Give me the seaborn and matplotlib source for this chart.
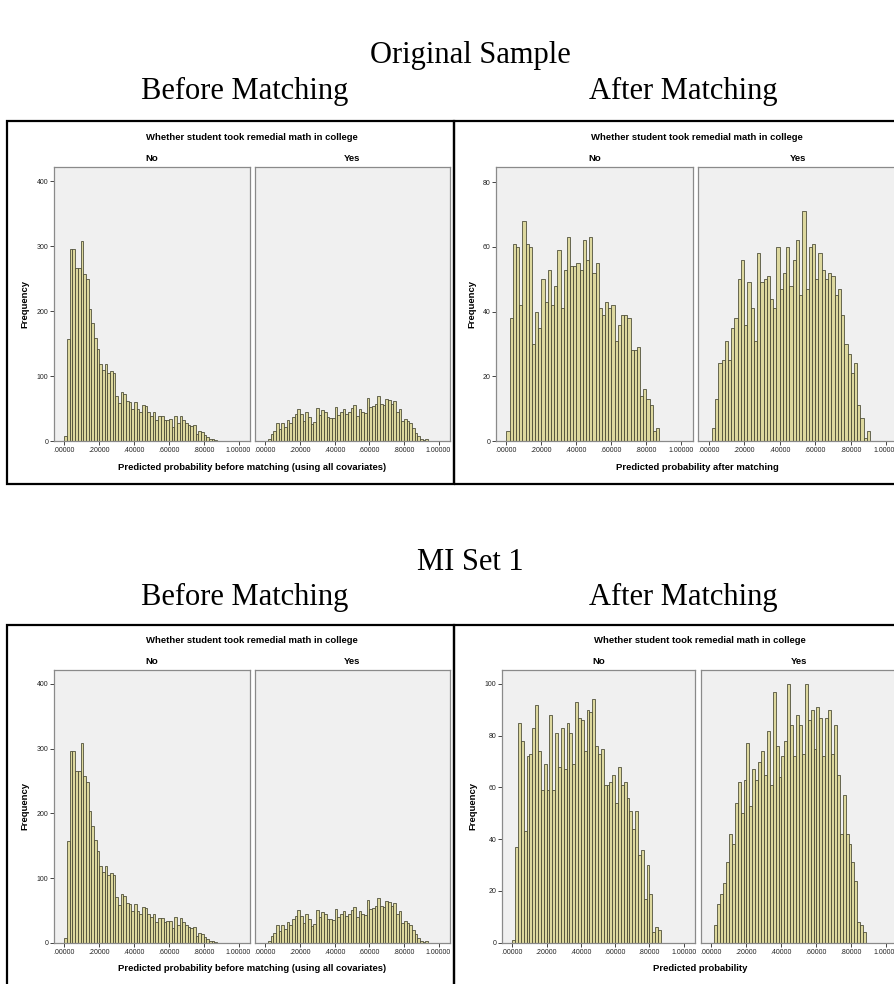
import numpy as np
import pandas as pd
import matplotlib
matplotlib.use("Agg")
import matplotlib.pyplot as plt
import seaborn as sns
from matplotlib.patches import Rectangle

sns.set_theme(style="white")
plt.rcParams["font.family"] = ["Liberation Sans", "DejaVu Sans"]
plt.rcParams["text.color"] = "black"

# ---------------------------------------------------------------- data
# Histogram counts per bin; each series starts at bin index FIRST_* and
# uses the bin width of its panel.
BIN_W_BEFORE = 0.2 / 13
BIN_W_AFTER_ORIG = 0.2 / 11
BIN_W_AFTER_MI = 1 / 60

# Before matching (propensity from all covariates) -- used for both samples
BEFORE_NO = [8, 157, 296, 296, 266, 266, 308, 257, 249, 204,
             181, 158, 141, 118, 109, 119, 105, 108, 104, 70,
             59, 76, 72, 62, 60, 49, 60, 49, 45, 55,
             54, 45, 39, 45, 32, 38, 38, 32, 33, 34,
             22, 39, 27, 38, 32, 27, 25, 23, 25, 11,
             15, 14, 9, 6, 3, 3, 1]
FIRST_BEFORE_NO = 0
BEFORE_YES = [3, 11, 15, 27, 18, 27, 21, 32, 27, 37,
              42, 50, 42, 31, 45, 37, 26, 29, 51, 40,
              47, 45, 37, 36, 35, 52, 40, 45, 49, 42,
              45, 51, 55, 39, 49, 45, 43, 66, 52, 54,
              57, 69, 57, 55, 64, 63, 57, 62, 45, 49,
              31, 34, 31, 27, 20, 13, 7, 3, 1, 3]
FIRST_BEFORE_YES = 1

# Original sample, after matching
ORIG_AFTER_NO = [3, 38, 61, 60, 42, 68, 61, 60, 30, 40,
                 35, 50, 43, 53, 42, 48, 59, 41, 53, 63,
                 54, 54, 55, 53, 62, 56, 63, 52, 55, 41,
                 39, 43, 41, 42, 31, 36, 39, 39, 38, 28,
                 28, 29, 14, 16, 13, 11, 3, 4]
FIRST_ORIG_AFTER_NO = 0
ORIG_AFTER_YES = [4, 13, 24, 25, 31, 25, 35, 38, 50, 56,
                  36, 49, 41, 31, 58, 49, 50, 51, 44, 41,
                  60, 47, 52, 60, 48, 56, 62, 45, 71, 47,
                  60, 61, 50, 58, 53, 50, 52, 51, 45, 47,
                  39, 30, 27, 21, 24, 11, 7, 1, 3]
FIRST_ORIG_AFTER_YES = 1

# MI set 1, after matching
MI_AFTER_NO = [1, 37, 85, 78, 43, 72, 73, 83, 92, 74,
               59, 69, 59, 88, 59, 81, 68, 83, 67, 85,
               81, 69, 93, 87, 86, 74, 90, 89, 94, 76,
               73, 75, 61, 61, 62, 65, 54, 68, 61, 62,
               56, 51, 44, 51, 34, 36, 17, 30, 19, 4,
               6, 5]
FIRST_MI_AFTER_NO = 0
MI_AFTER_YES = [7, 15, 19, 23, 31, 42, 38, 54, 62, 50,
                63, 77, 53, 67, 63, 70, 74, 65, 82, 61,
                97, 76, 64, 72, 78, 100, 84, 72, 88, 84,
                73, 100, 86, 90, 75, 91, 87, 72, 87, 90,
                73, 84, 65, 42, 57, 42, 38, 31, 24, 8,
                7, 4]
FIRST_MI_AFTER_YES = 1

FACETS = ["No", "Yes"]
X_TICKS = [0.0, 0.2, 0.4, 0.6, 0.8, 1.0]
X_TICK_LABELS = [".00000", ".20000", ".40000", ".60000", ".80000", "1.00000"]
FACET_TITLE = "Whether student took remedial math in college"

# ---------------------------------------------------------------- style
W, H = 895, 984
BAR_FACE = "#DDD89E"
BAR_EDGE = "#44442f"
PANEL_BG = "#F0F0F0"
FRAME = "#8a8a8a"
SANS = ["Liberation Sans", "DejaVu Sans"]
SERIF = ["Liberation Serif", "DejaVu Serif"]
HEAD_SIZE = 22

fig = plt.figure(figsize=(W / 100, H / 100), dpi=100)
fig.patch.set_facecolor("white")


def fx(x):
    return x / W


def fy(y):
    return 1 - y / H


def px_axes(x0, y0, x1, y1):
    return fig.add_axes([fx(x0), fy(y1), (x1 - x0) / W, (y1 - y0) / H])


def draw_hist(ax, counts, first_bin, width, ymax, yticks, show_y):
    n = len(counts)
    idx = first_bin + np.arange(n)
    table = pd.DataFrame({"p": (idx + 0.5) * width, "n": counts})
    edges = [float(e) for e in (first_bin + np.arange(n + 1)) * width]
    sns.histplot(data=table, x="p", weights="n", bins=edges, ax=ax,
                 color=BAR_FACE, edgecolor=BAR_EDGE, linewidth=0.55,
                 alpha=1, element="bars", fill=True)
    ax.set_facecolor(PANEL_BG)
    ax.set_xlim(-0.06, 1.066)
    ax.set_ylim(0, ymax)
    ax.set_xlabel("")
    ax.set_ylabel("")
    ax.set_xticks(X_TICKS)
    ax.set_xticklabels(X_TICK_LABELS)
    ax.set_yticks(yticks)
    ax.set_yticklabels([str(t) for t in yticks])
    for s in ax.spines.values():
        s.set_color(FRAME)
        s.set_linewidth(0.9)
    ax.tick_params(axis="both", direction="out", length=3, width=0.7,
                   color="#444444", labelsize=5, pad=1.2,
                   labelcolor="#222222")
    ax.tick_params(axis="x", bottom=True)
    if show_y:
        ax.tick_params(axis="y", left=True, labelleft=True)
    else:
        ax.tick_params(axis="y", left=False, labelleft=False)
    for lab in ax.get_xticklabels() + ax.get_yticklabels():
        lab.set_fontfamily(SANS)


def draw_block(box_x0, box_x1, box_y0, box_y1, ax_y0, ax_y1,
               no_x, yes_x, series, ymax, yticks, xlabel, ylabel_x):
    # outer black box
    fig.add_artist(Rectangle((fx(box_x0), fy(box_y1)),
                             (box_x1 - box_x0) / W, (box_y1 - box_y0) / H,
                             transform=fig.transFigure, fill=False,
                             edgecolor="black", linewidth=1.6))
    axes = []
    for k, (xr, (counts, first, width)) in enumerate(zip([no_x, yes_x], series)):
        ax = px_axes(xr[0], ax_y0, xr[1], ax_y1)
        draw_hist(ax, counts, first, width, ymax, yticks, show_y=(k == 0))
        fig.text(fx((xr[0] + xr[1]) / 2), fy(ax_y0 - 8.5), FACETS[k],
                 ha="center", va="center", fontsize=6.8, fontweight="bold",
                 family=SANS)
        axes.append(ax)
    cx = (no_x[0] + yes_x[1]) / 2
    fig.text(fx(cx), fy(ax_y0 - 29.5), FACET_TITLE, ha="center", va="center",
             fontsize=6.8, fontweight="bold", family=SANS)
    fig.text(fx(cx), fy(ax_y1 + 26), xlabel, ha="center", va="center",
             fontsize=6.8, fontweight="bold", family=SANS)
    fig.text(fx(ylabel_x), fy((ax_y0 + ax_y1) / 2), "Frequency",
             ha="center", va="center", rotation=90, fontsize=6.8,
             fontweight="bold", family=SANS)
    return axes


before_series = [(BEFORE_NO, FIRST_BEFORE_NO, BIN_W_BEFORE),
                 (BEFORE_YES, FIRST_BEFORE_YES, BIN_W_BEFORE)]
orig_after_series = [(ORIG_AFTER_NO, FIRST_ORIG_AFTER_NO, BIN_W_AFTER_ORIG),
                     (ORIG_AFTER_YES, FIRST_ORIG_AFTER_YES, BIN_W_AFTER_ORIG)]
mi_after_series = [(MI_AFTER_NO, FIRST_MI_AFTER_NO, BIN_W_AFTER_MI),
                   (MI_AFTER_YES, FIRST_MI_AFTER_YES, BIN_W_AFTER_MI)]

XLAB_BEFORE = "Predicted probability before matching (using all covariates)"

# ---- original sample
draw_block(7.5, 454, 121, 484, 167.3, 441, (54, 250), (255, 450),
           before_series, 421.5, [0, 100, 200, 300, 400], XLAB_BEFORE, 25)
draw_block(454, 897, 121, 484, 167.3, 441, (496, 693), (698, 898),
           orig_after_series, 84.6, [0, 20, 40, 60, 80],
           "Predicted probability after matching", 471.5)

# ---- MI set 1 (lower frame runs past the bottom edge)
draw_block(7.5, 454, 624.5, 988, 670, 942.7, (54, 250), (255, 450),
           before_series, 421.5, [0, 100, 200, 300, 400], XLAB_BEFORE, 25)
draw_block(454, 897, 624.5, 988, 670, 942.7, (502, 695), (701, 898),
           mi_after_series, 105.4, [0, 20, 40, 60, 80, 100],
           "Predicted probability", 473)

# ---- headings
fig.text(fx(470), fy(56), "Original Sample", ha="center", va="center",
         fontsize=HEAD_SIZE, family=SERIF, color="black")
fig.text(fx(245), fy(91), "Before Matching", ha="center", va="center",
         fontsize=HEAD_SIZE, family=SERIF, color="black")
fig.text(fx(683), fy(91), "After Matching", ha="center", va="center",
         fontsize=HEAD_SIZE, family=SERIF, color="black")
fig.text(fx(470), fy(563), "MI Set 1", ha="center", va="center",
         fontsize=HEAD_SIZE, family=SERIF, color="black")
fig.text(fx(245), fy(597), "Before Matching", ha="center", va="center",
         fontsize=HEAD_SIZE, family=SERIF, color="black")
fig.text(fx(683), fy(597), "After Matching", ha="center", va="center",
         fontsize=HEAD_SIZE, family=SERIF, color="black")

fig.savefig("out.png", dpi=100, facecolor="white")
